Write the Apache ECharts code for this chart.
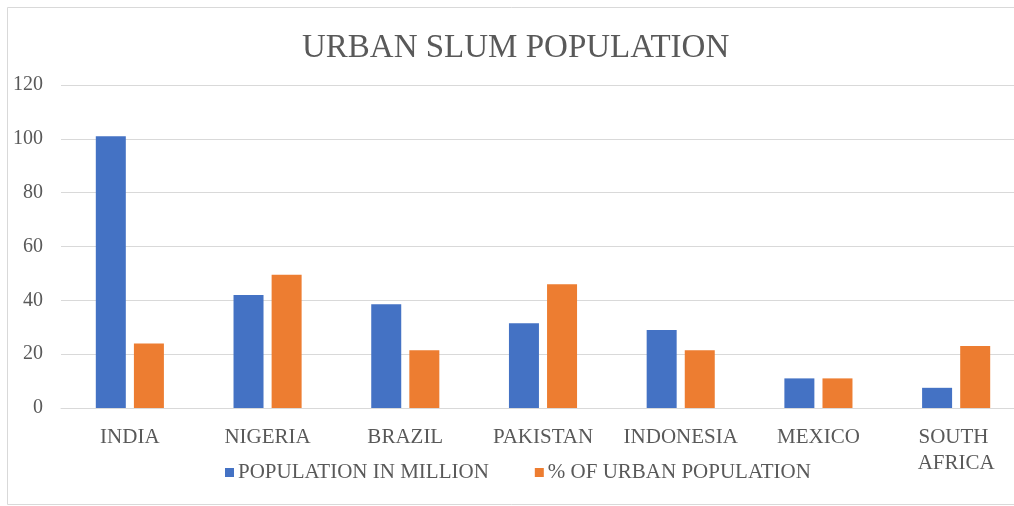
<!DOCTYPE html>
<html>
<head>
<meta charset="utf-8">
<script src="https://cdn.jsdelivr.net/npm/echarts@6/dist/echarts.min.js"></script>
<style>
html,body{margin:0;padding:0;background:#fff;}
#chart{width:1014px;height:506px;}
</style>
</head>
<body>
<div id="chart"></div>
<script>
const categories = ["INDIA", "NIGERIA", "BRAZIL", "PAKISTAN", "INDONESIA", "MEXICO", "SOUTH AFRICA"];
const populationInMillion = [101, 42, 38.5, 31.5, 29, 11, 7.5];
const pctOfUrbanPopulation = [24, 49.5, 21.5, 46, 21.5, 11, 23];
const yTicks = { min: 0, max: 120, interval: 20 };
const seriesNames = ["POPULATION IN MILLION", "% OF URBAN POPULATION"];
const titleText = "URBAN SLUM POPULATION";

const FONT = '"Liberation Serif", "Times New Roman", serif';
const TXT = '#595959';
const chart = echarts.init(document.getElementById('chart'), null, { renderer: 'canvas' });
chart.setOption({
  animation: false,
  backgroundColor: '#fff',
  graphic: [{
    type: 'rect',
    shape: { x: 7.5, y: 7.5, width: 1030, height: 497 },
    style: { fill: 'none', stroke: '#d9d9d9', lineWidth: 1 },
    silent: true
  }],
  title: {
    text: titleText,
    left: 302,
    top: 32,
    padding: 0,
    textStyle: { fontFamily: FONT, fontSize: 33, fontWeight: 'normal', color: TXT }
  },
  legend: {
    data: seriesNames,
    left: 225,
    top: 462,
    padding: 0,
    icon: 'rect',
    itemWidth: 9,
    itemHeight: 9,
    itemGap: 46,
    textStyle: { fontFamily: FONT, fontSize: 21, color: TXT, padding: [0, 0, 0, -1] }
  },
  grid: { left: 61, width: 964, top: 85, bottom: 98, containLabel: false, outerBoundsMode: 'none' },
  xAxis: {
    type: 'category',
    data: categories,
    axisLine: { show: true, lineStyle: { color: '#d9d9d9', width: 1 } },
    axisTick: { show: false },
    axisLabel: {
      interval: 0,
      margin: 16,
      fontFamily: FONT,
      fontSize: 21,
      lineHeight: 26,
      color: TXT,
      width: 130,
      overflow: 'break'
    }
  },
  yAxis: {
    type: 'value',
    min: yTicks.min,
    max: yTicks.max,
    interval: yTicks.interval,
    axisLine: { show: false },
    axisTick: { show: false },
    splitLine: { lineStyle: { color: '#d9d9d9', width: 1 } },
    axisLabel: { margin: 18, fontFamily: FONT, fontSize: 20, color: TXT }
  },
  series: [
    {
      name: seriesNames[0],
      type: 'bar',
      data: populationInMillion,
      barWidth: 30,
      barGap: '27%',
      itemStyle: { color: '#4472C4' }
    },
    {
      name: seriesNames[1],
      type: 'bar',
      data: pctOfUrbanPopulation,
      barWidth: 30,
      barGap: '27%',
      itemStyle: { color: '#ED7D31' }
    }
  ]
});
</script>
</body>
</html>
